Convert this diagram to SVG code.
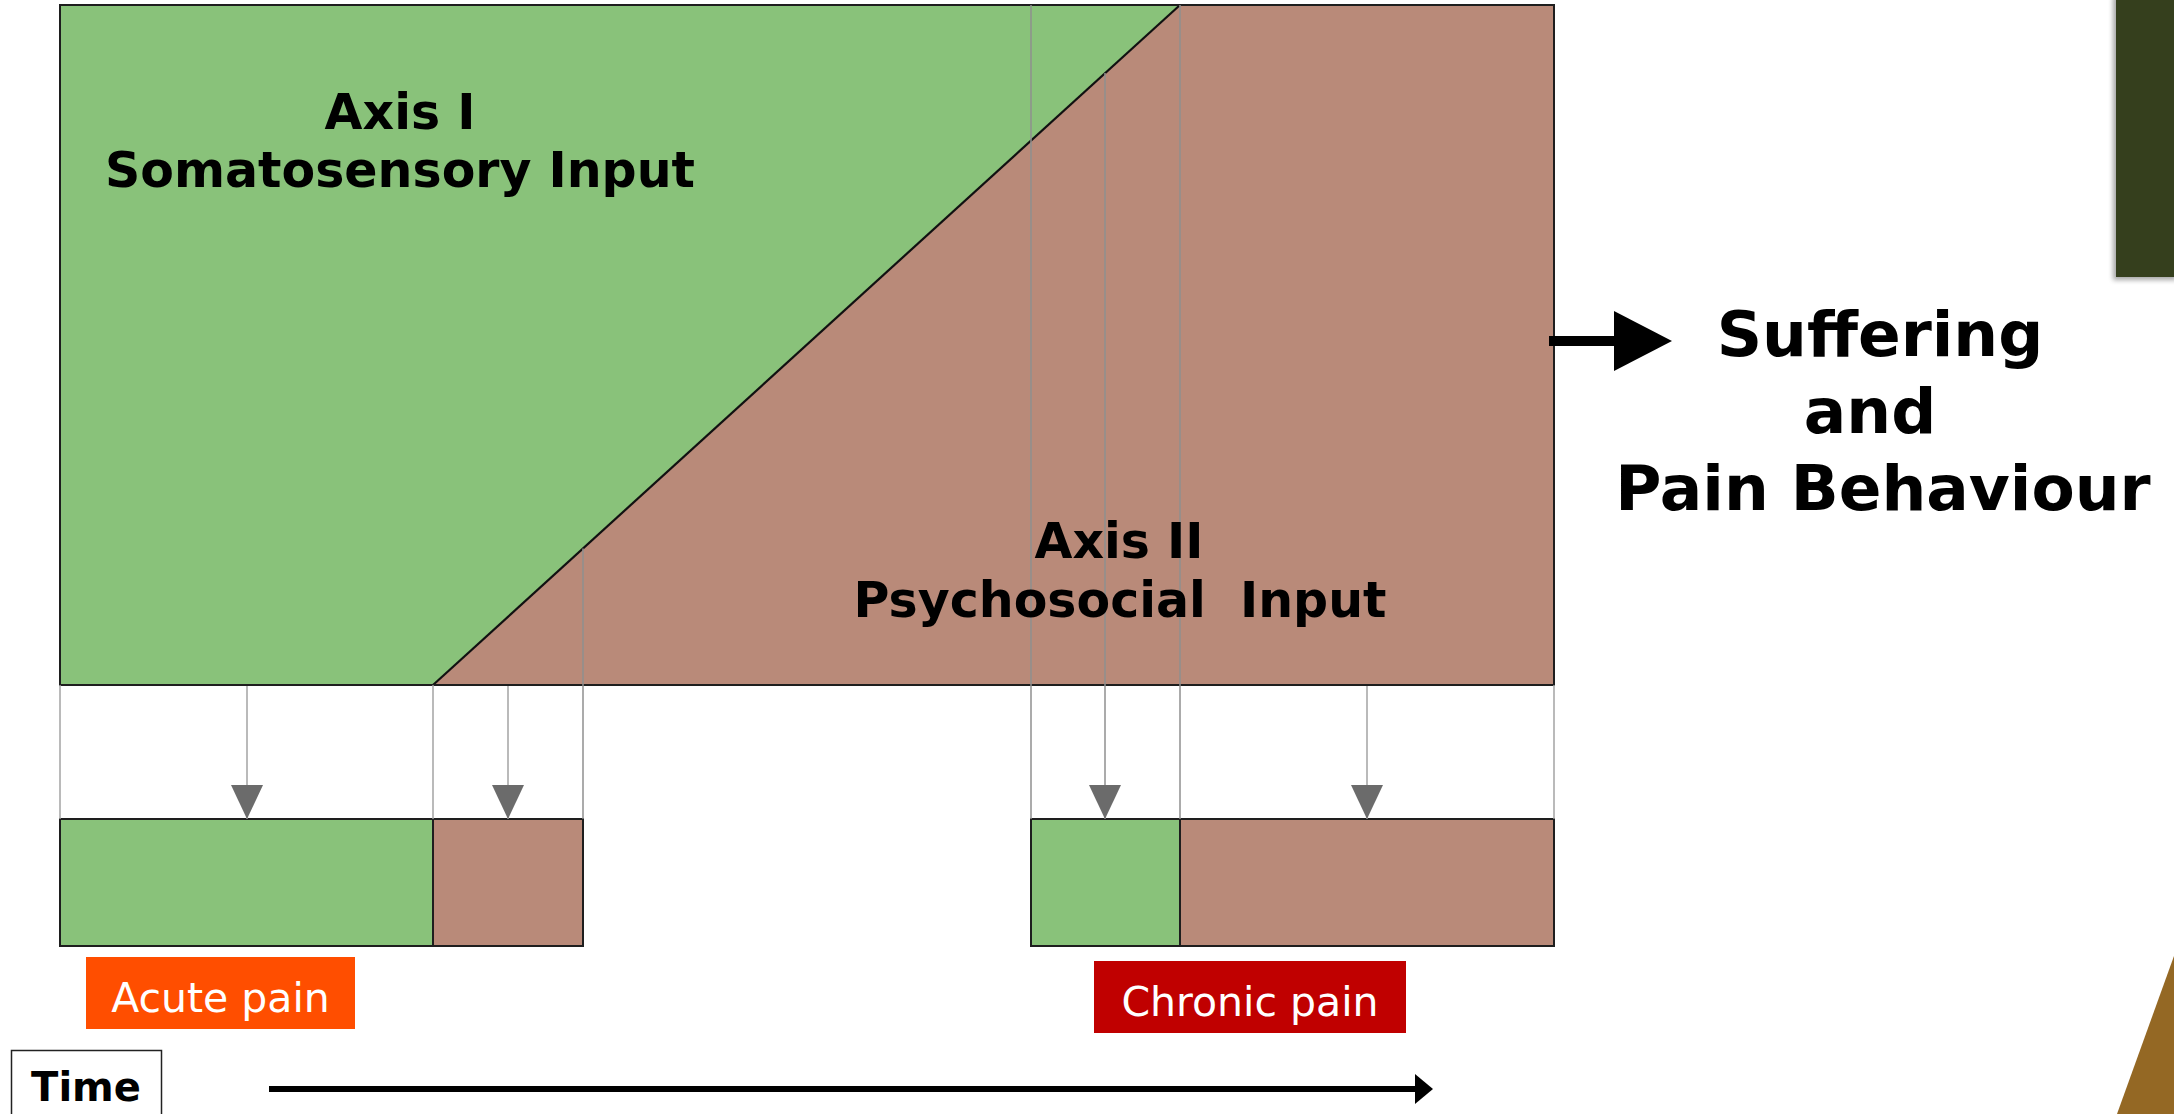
<svg xmlns="http://www.w3.org/2000/svg" width="2174" height="1114" viewBox="0 0 2174 1114">
  <style>
    .soma { fill: #89C27A; }
    .psy { fill: #B98A79; }
    .frame { fill: none; stroke: #1e1e1e; stroke-width: 2; }
    .guide { stroke: #8f8f8f; stroke-width: 1.5; fill: none; }
    .drop { stroke: #a3a3a3; stroke-width: 1.5; fill: none; }
    .head { fill: #6b6b6b; }
    .axis { font-family: "DejaVu Sans", Verdana, sans-serif; font-weight: bold; font-size: 49px; fill: #000; text-anchor: middle; }
    .outcome { font-family: "DejaVu Sans", Verdana, sans-serif; font-weight: bold; font-size: 63px; fill: #000; text-anchor: middle; }
    .tag { font-family: "DejaVu Sans", Verdana, sans-serif; font-size: 41px; fill: #fff; text-anchor: middle; }
    .time { font-family: "DejaVu Sans", Verdana, sans-serif; font-weight: bold; font-size: 40px; fill: #000; text-anchor: middle; }
  </style>
  <defs>
    <!-- drawn pointing along +x; orient="auto" turns it down the vertical drops -->
    <marker id="grayHead" viewBox="0 0 34 32" refX="34" refY="16" markerWidth="34" markerHeight="32" markerUnits="userSpaceOnUse" orient="auto">
      <path d="M0,0 L34,16 L0,32 Z" class="head"/>
    </marker>
    <filter id="softShadow" x="-20%" y="-10%" width="140%" height="120%">
      <feGaussianBlur stdDeviation="2.5"/>
    </filter>
  </defs>

  <rect width="2174" height="1114" fill="#ffffff"/>

  <!-- corner decorations -->
  <g id="corner-decor">
    <rect x="2113" y="-4" width="64" height="284" fill="#000" opacity="0.35" filter="url(#softShadow)"/>
    <rect x="2116" y="0" width="58" height="277" fill="#353F1D"/>
    <polygon points="2174,956 2174,1114 2117,1114" fill="#946824"/>
  </g>

  <!-- main panel: somatosensory vs psychosocial share over time -->
  <g id="input-panel">
    <polygon class="soma" points="60,5 1180,5 433,685 60,685"/>
    <polygon class="psy" points="1180,5 1554,5 1554,685 433,685"/>
    <line x1="1180" y1="5" x2="433" y2="685" stroke="#111" stroke-width="2.2"/>
    <rect class="frame" x="60" y="5" width="1494" height="680"/>
  </g>

  <!-- acute-pain bar -->
  <g id="acute-bar">
    <rect class="soma" x="60" y="819" width="373" height="127"/>
    <rect class="psy" x="433" y="819" width="150" height="127"/>
    <rect class="frame" x="60" y="819" width="523" height="127"/>
    <line x1="433" y1="819" x2="433" y2="946" stroke="#1e1e1e" stroke-width="2"/>
  </g>

  <!-- chronic-pain bar -->
  <g id="chronic-bar">
    <rect class="soma" x="1031" y="819" width="149" height="127"/>
    <rect class="psy" x="1180" y="819" width="374" height="127"/>
    <rect class="frame" x="1031" y="819" width="523" height="127"/>
    <line x1="1180" y1="819" x2="1180" y2="946" stroke="#1e1e1e" stroke-width="2"/>
  </g>

  <!-- guides and projection arrows -->
  <g id="connectors">
    <line class="drop" x1="60" y1="685" x2="60" y2="819"/>
    <line class="drop" x1="433" y1="685" x2="433" y2="819"/>
    <line class="guide" x1="583" y1="548.5" x2="583" y2="819"/>
    <line class="guide" x1="1031" y1="5" x2="1031" y2="819"/>
    <line class="guide" x1="1180" y1="5" x2="1180" y2="819"/>
    <line class="drop" x1="1554" y1="685" x2="1554" y2="819"/>
    <line class="drop" x1="247" y1="686" x2="247" y2="819" marker-end="url(#grayHead)"/>
    <line class="drop" x1="508" y1="686" x2="508" y2="819" marker-end="url(#grayHead)"/>
    <line class="guide" x1="1105" y1="73" x2="1105" y2="819" marker-end="url(#grayHead)"/>
    <line class="drop" x1="1367" y1="686" x2="1367" y2="819" marker-end="url(#grayHead)"/>
    <!-- outcome arrow -->
    <rect x="1549" y="336" width="67" height="10" fill="#000"/>
    <polygon points="1614,311 1672,341 1614,371" fill="#000"/>
    <!-- time arrow -->
    <rect x="269" y="1086" width="1148" height="6" fill="#000"/>
    <polygon points="1415,1074 1433,1089 1415,1104" fill="#000"/>
  </g>

  <!-- labels -->
  <g id="axis-one-label">
    <text class="axis" x="400" y="129">Axis I</text>
    <text class="axis" x="400" y="187">Somatosensory Input</text>
  </g>
  <g id="axis-two-label">
    <text class="axis" x="1119" y="558">Axis II</text>
    <text class="axis" x="1120" y="617" xml:space="preserve">Psychosocial  Input</text>
  </g>
  <g id="outcome-label">
    <text class="outcome" x="1880" y="356">Suffering</text>
    <text class="outcome" x="1870" y="433">and</text>
    <text class="outcome" x="1883" y="510">Pain Behaviour</text>
  </g>
  <g id="acute-tag">
    <rect x="86" y="957" width="269" height="72" fill="#FF4E00"/>
    <text class="tag" x="220.5" y="1012">Acute pain</text>
  </g>
  <g id="chronic-tag">
    <rect x="1094" y="961" width="312" height="72" fill="#C00000"/>
    <text class="tag" x="1250" y="1016">Chronic pain</text>
  </g>
  <g id="time-label">
    <rect x="11.5" y="1050.5" width="150" height="70" fill="#fff" stroke="#222" stroke-width="1.5"/>
    <text class="time" x="86" y="1101">Time</text>
  </g>
</svg>
